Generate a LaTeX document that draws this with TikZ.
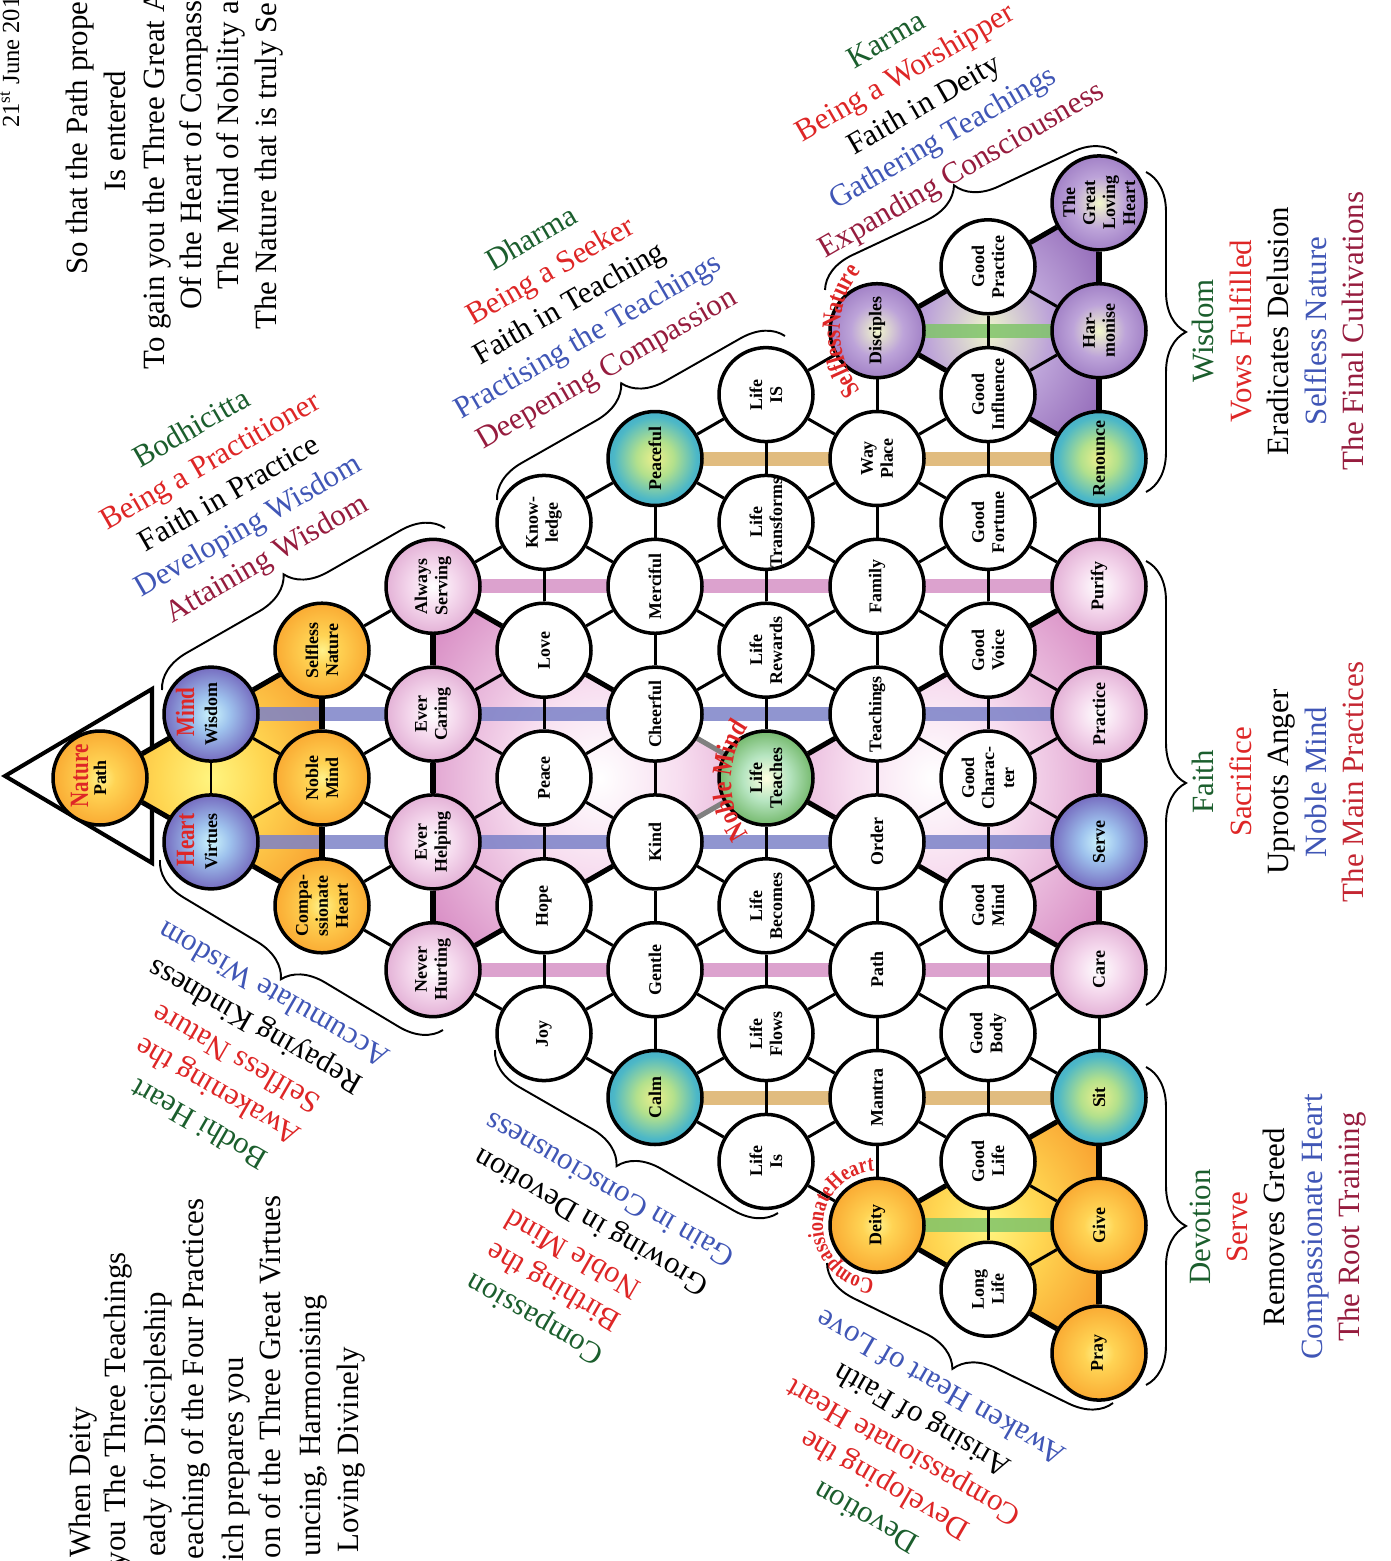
\documentclass[tikz,border=0pt]{standalone}
\usepackage{fontspec}
\setmainfont{Liberation Serif}
\newfontfamily\narrowfont[FakeStretch=0.8]{Liberation Serif}
\usetikzlibrary{decorations.pathreplacing,decorations.text}

\definecolor{dgreen}{RGB}{27,94,45}
\definecolor{tred}{RGB}{222,38,38}
\definecolor{tblue}{RGB}{64,86,182}
\definecolor{tmaroon}{RGB}{150,28,62}
\definecolor{tcrimson}{RGB}{196,38,50}
\definecolor{barblue}{RGB}{124,130,200}
\definecolor{barpink}{RGB}{214,146,198}
\definecolor{bartan}{RGB}{220,176,104}
\definecolor{bargreen}{RGB}{128,196,106}

\pgfdeclareradialshading{orangeball}{\pgfpointorigin}{rgb(0bp)=(1,0.95,0.55); rgb(8bp)=(1,0.83,0.33); rgb(25bp)=(0.98,0.67,0.2); rgb(50bp)=(0.93,0.5,0.1)}
\pgfdeclareradialshading{purpleball}{\pgfpointorigin}{rgb(0bp)=(0.8,0.96,0.99); rgb(10bp)=(0.62,0.76,0.93); rgb(26bp)=(0.45,0.4,0.74); rgb(50bp)=(0.3,0.18,0.52)}
\pgfdeclareradialshading{violetball}{\pgfpointorigin}{rgb(0bp)=(0.95,0.97,0.8); rgb(14bp)=(0.74,0.64,0.85); rgb(34bp)=(0.55,0.4,0.72); rgb(50bp)=(0.43,0.27,0.6)}
\pgfdeclareradialshading{pinkball}{\pgfpointorigin}{rgb(0bp)=(1,1,1); rgb(12bp)=(0.96,0.85,0.93); rgb(50bp)=(0.76,0.4,0.67)}
\pgfdeclareradialshading{blueball}{\pgfpointorigin}{rgb(0bp)=(0.93,0.94,0.55); rgb(10bp)=(0.7,0.88,0.55); rgb(22bp)=(0.3,0.72,0.78); rgb(50bp)=(0.1,0.45,0.82)}
\pgfdeclareradialshading{greenball}{\pgfpointorigin}{rgb(0bp)=(1,1,0.88); rgb(12bp)=(0.72,0.9,0.76); rgb(30bp)=(0.36,0.66,0.3); rgb(50bp)=(0.14,0.38,0.12)}
\pgfdeclareradialshading{orangefill}{\pgfpointorigin}{rgb(0bp)=(1,0.96,0.5); rgb(12bp)=(1,0.84,0.32); rgb(32bp)=(0.97,0.6,0.17)}
\pgfdeclareradialshading{violetfill}{\pgfpointorigin}{rgb(0bp)=(0.93,0.96,0.8); rgb(14bp)=(0.74,0.64,0.85); rgb(36bp)=(0.52,0.34,0.68)}
\pgfdeclareradialshading{pinkfill}{\pgfpointorigin}{rgb(0bp)=(1,1,1); rgb(12bp)=(0.97,0.87,0.94); rgb(36bp)=(0.82,0.48,0.73)}

\pgfdeclarelayer{fills}
\pgfdeclarelayer{bars}
\pgfdeclarelayer{edges}
\pgfsetlayers{fills,bars,edges,main}

\tikzset{
  ball/.style={circle,draw,line width=2pt,minimum size=1.88cm,inner sep=0pt},
  ballwhite/.style={fill=white},
  ballorange/.style={shade,shading=orangeball},
  ballpurple/.style={shade,shading=purpleball},
  ballviolet/.style={shade,shading=violetball},
  ballpink/.style={shade,shading=pinkball},
  ballblue/.style={shade,shading=blueball},
  ballgreen/.style={shade,shading=greenball},
  lbl/.style={rotate=90,align=center,inner sep=0pt,font=\fontsize{10.2}{11.4}\selectfont\bfseries},
  redlbl/.style={rotate=90,inner sep=0pt,text=tred,font=\narrowfont\fontsize{15}{15}\selectfont\bfseries},
  edge/.style={line width=1.7pt},
  rim/.style={line width=2.9pt},
  bar/.style={line width=0.28cm,opacity=0.85},
  brc/.style={decorate,decoration={brace,amplitude=0.8cm},line width=1.1pt},
  big/.style={inner sep=0pt,font=\fontsize{17.6}{21.3}\selectfont},
  verse/.style={big,rotate=90},
  group/.style={big,align=center}
}

\begin{document}
\begin{tikzpicture}[x=0.02cm,y=-0.02cm]
\useasboundingbox (0,0) rectangle (1390,1561);

\foreach \r/\row in {
  1/{ballorange/Path},
  2/{ballpurple/Wisdom,ballpurple/Virtues},
  3/{ballorange/{Selfless\\Nature},ballorange/{Noble\\Mind},ballorange/{Compa-\\ssionate\\Heart}},
  4/{ballpink/{Always\\Serving},ballpink/{Ever\\Caring},ballpink/{Ever\\Helping},ballpink/{Never\\Hurting}},
  5/{ballwhite/{Know-\\ledge},ballwhite/Love,ballwhite/Peace,ballwhite/Hope,ballwhite/Joy},
  6/{ballblue/Peaceful,ballwhite/Merciful,ballwhite/Cheerful,ballwhite/Kind,ballwhite/Gentle,ballblue/Calm},
  7/{ballwhite/{Life\\IS},ballwhite/{Life\\Transforms},ballwhite/{Life\\Rewards},ballgreen/{Life\\Teaches},ballwhite/{Life\\Becomes},ballwhite/{Life\\Flows},ballwhite/{Life\\Is}},
  8/{ballviolet/Disciples,ballwhite/{Way\\Place},ballwhite/Family,ballwhite/Teachings,ballwhite/Order,ballwhite/Path,ballwhite/Mantra,ballorange/Deity},
  9/{ballwhite/{Good\\Practice},ballwhite/{Good\\Influence},ballwhite/{Good\\Fortune},ballwhite/{Good\\Voice},ballwhite/{Good\\Charac-\\ter},ballwhite/{Good\\Mind},ballwhite/{Good\\Body},ballwhite/{Good\\Life},ballwhite/{Long\\Life}},
  10/{ballviolet/{The\\Great\\Loving\\Heart},ballviolet/{Har-\\monise},ballblue/Renounce,ballpink/Purify,ballpink/Practice,ballpurple/Serve,ballpink/Care,ballblue/Sit,ballorange/Give,ballorange/Pray}}
  \foreach \s/\t [count=\k] in \row {
    \node[ball,\s] (n\r-\k) at ({100+(\r-1)*111},{778+(\k-(\r+1)/2)*127.8}) {};
    \node[lbl] (t\r-\k) at (n\r-\k) {\t};
  }

\begin{pgfonlayer}{fills}
  \draw[line width=2.3pt,line join=miter] (5,776) -- (152,689) -- (152,863) -- cycle;
  \shade[shading=orangefill] (n1-1.center) -- (n3-1.center) -- (n3-3.center) -- cycle;
  \shade[shading=violetfill] (n8-1.center) -- (n10-1.center) -- (n10-3.center) -- cycle;
  \shade[shading=orangefill] (n8-8.center) -- (n10-8.center) -- (n10-10.center) -- cycle;
  \shade[shading=pinkfill] (n4-1.center) -- (n4-4.center) -- (n7-4.center) -- cycle;
  \shade[shading=pinkfill] (n7-4.center) -- (n10-4.center) -- (n10-7.center) -- cycle;
\end{pgfonlayer}

\begin{pgfonlayer}{bars}
  \draw[bar,barblue] (n2-1.center) -- (n10-5.center);
  \draw[bar,barblue] (n2-2.center) -- (n10-6.center);
  \draw[bar,barpink] (n4-1.center) -- (n10-4.center);
  \draw[bar,barpink] (n4-4.center) -- (n10-7.center);
  \draw[bar,bartan] (n6-1.center) -- (n10-3.center);
  \draw[bar,bartan] (n6-6.center) -- (n10-8.center);
  \draw[bar,bargreen] (n8-1.center) -- (n10-2.center);
  \draw[bar,bargreen] (n8-8.center) -- (n10-9.center);
\end{pgfonlayer}

\begin{pgfonlayer}{edges}
  \foreach \r in {1,...,10}
    \foreach \k in {1,...,\r} {
      \pgfmathtruncatemacro\rn{\r+1}
      \pgfmathtruncatemacro\kn{\k+1}
      \ifnum\k<\r \draw[edge] (n\r-\k) -- (n\r-\kn); \fi
      \ifnum\r<10 \draw[edge] (n\r-\k) -- (n\rn-\k) (n\r-\k) -- (n\rn-\kn); \fi
    }
  \foreach \a/\b in {1-1/2-1,2-1/3-1,1-1/2-2,2-2/3-3,3-1/3-2,3-2/3-3,
    8-1/9-1,9-1/10-1,8-1/9-2,9-2/10-3,10-1/10-2,10-2/10-3,
    8-8/9-8,9-8/10-8,8-8/9-9,9-9/10-10,10-8/10-9,10-9/10-10,
    4-1/4-2,4-2/4-3,4-3/4-4,4-1/5-2,5-2/6-3,4-4/5-4,5-4/6-4,
    7-4/8-4,8-4/9-4,9-4/10-4,7-4/8-5,8-5/9-6,9-6/10-7,10-4/10-5,10-5/10-6,10-6/10-7}
    \draw[rim] (n\a) -- (n\b);
  \draw[rim,gray] (n6-3) -- (n7-4) (n6-4) -- (n7-4);
\end{pgfonlayer}

\node[redlbl,anchor=base] (lnature) at (88,776) {Nature};
\node[redlbl,anchor=base] (lmind) at (194,712) {Mind};
\node[redlbl,anchor=base] (lheart) at (194,840) {Heart};
\path[decorate,decoration={text along path,text align=center,
  text={|\narrowfont\fontsize{16}{16}\selectfont\bfseries\color{tred}|Noble Mind}}]
  (752.3,839.4) arc[start angle=140,end angle=220,radius=91];
\path[decorate,decoration={text along path,text align=center,
  text={|\narrowfont\fontsize{15}{15}\selectfont\bfseries\color{tred}|SelflessNature}}]
  (867.8,398.2) arc[start angle=135,end angle=225,radius=95];
\path[decorate,decoration={text along path,text align=center,
  text={|\narrowfont\fontsize{13}{13}\selectfont\bfseries\color{tred}|CompassionateHeart}}]
  (877,1279.3) arc[start angle=90,end angle=270,radius=54];

\coordinate (b1s) at (162,690);  \coordinate (b1e) at (445,528);
\coordinate (b2s) at (497,500);  \coordinate (b2e) at (785,336);
\coordinate (b3s) at (825,290);  \coordinate (b3e) at (1117,153);
\coordinate (b4s) at (443,1030); \coordinate (b4e) at (160,860);
\coordinate (b5s) at (778,1213); \coordinate (b5e) at (495,1050);
\coordinate (b6s) at (1113,1403); \coordinate (b6e) at (827,1263);
\coordinate (b7s) at (1146,172); \coordinate (b7e) at (1146,492);
\coordinate (b8s) at (1146,561); \coordinate (b8e) at (1146,1005);
\coordinate (b9s) at (1146,1067); \coordinate (b9e) at (1146,1385);
\foreach \i in {1,...,9} \draw[brc] (b\i s) -- (b\i e);

\node[group,rotate=30] (gbodhi) at (230,495) {\textcolor{dgreen}{Bodhicitta}\\\textcolor{tred}{Being a Practitioner}\\Faith in Practice\\\textcolor{tblue}{Developing Wisdom}\\\textcolor{tmaroon}{Attaining Wisdom}};
\node[group,rotate=30] (gdharma) at (570,305) {\textcolor{dgreen}{Dharma}\\\textcolor{tred}{Being a Seeker}\\Faith in Teaching\\\textcolor{tblue}{Practising the Teachings}\\\textcolor{tmaroon}{Deepening Compassion}};
\node[group,rotate=30] (gkarma) at (925,107) {\textcolor{dgreen}{Karma}\\\textcolor{tred}{Being a Worshipper}\\Faith in Deity\\\textcolor{tblue}{Gathering Teachings}\\\textcolor{tmaroon}{Expanding Consciousness}};
\node[group,rotate=150] (gbheart) at (236,1060) {\textcolor{dgreen}{Bodhi Heart}\\\textcolor{tred}{Awakening the}\\\textcolor{tred}{Selfless Nature}\\Repaying Kindness\\\textcolor{tblue}{Accumulate Wisdom}};
\node[group,rotate=150] (gcompass) at (572,1255) {\textcolor{dgreen}{Compassion}\\\textcolor{tred}{Birthing the}\\\textcolor{tred}{Noble Mind}\\Growing in Devotion\\\textcolor{tblue}{Gain in Consciousness}};
\node[group,rotate=150] (gdevot) at (903,1453) {\textcolor{dgreen}{Devotion}\\\textcolor{tred}{Developing the}\\\textcolor{tred}{Compassionate Heart}\\Arising of Faith\\\textcolor{tblue}{Awaken Heart of Love}};

\node[group,rotate=90] (rwisdom) at (1278,331) {\textcolor{dgreen}{Wisdom}\\\textcolor{tred}{Vows Fulfilled}\\Eradicates Delusion\\\textcolor{tblue}{Selfless Nature}\\\textcolor{tmaroon}{The Final Cultivations}};
\node[group,rotate=90] (rfaith) at (1278,782) {\textcolor{dgreen}{Faith}\\\textcolor{tred}{Sacrifice}\\Uproots Anger\\\textcolor{tblue}{Noble Mind}\\\textcolor{tcrimson}{The Main Practices}};
\node[group,rotate=90] (rdevot) at (1278,1227) {\textcolor{dgreen}{Devotion}\\\textcolor{tred}{Serve}\\Removes Greed\\\textcolor{tblue}{Compassionate Heart}\\\textcolor{tmaroon}{The Root Training}};

\node[verse,anchor=base west,font=\fontsize{14}{14}\selectfont] (v0) at (19,128) {21\textsuperscript{st} June 201};
\node[verse,anchor=base west] (v1) at (87,275) {So that the Path prope};
\node[verse,anchor=base west] (v2) at (125,192) {Is entered};
\node[verse,anchor=base west] (v3) at (164,370) {To gain you the Three Great A};
\node[verse,anchor=base west] (v4) at (201,310) {Of the Heart of Compass};
\node[verse,anchor=base west] (v5) at (238,290) {The Mind of Nobility a};
\node[verse,anchor=base west] (v6) at (276,330) {The Nature that is truly Se};

\node[verse,anchor=base east] (w1) at (90,1407) {When Deity};
\node[verse,anchor=base east] (w2) at (125,1252) {you The Three Teachings};
\node[verse,anchor=base east] (w3) at (165,1292) {eady for Discipleship};
\node[verse,anchor=base east] (w4) at (203,1198) {eaching of the Four Practices};
\node[verse,anchor=base east] (w5) at (243,1357) {ich prepares you};
\node[verse,anchor=base east] (w6) at (280,1195) {on of the Three Great Virtues};
\node[verse,anchor=base east] (w7) at (320,1295) {uncing, Harmonising};
\node[verse,anchor=base east] (w8) at (358,1347) {Loving Divinely};
\end{tikzpicture}
\end{document}
